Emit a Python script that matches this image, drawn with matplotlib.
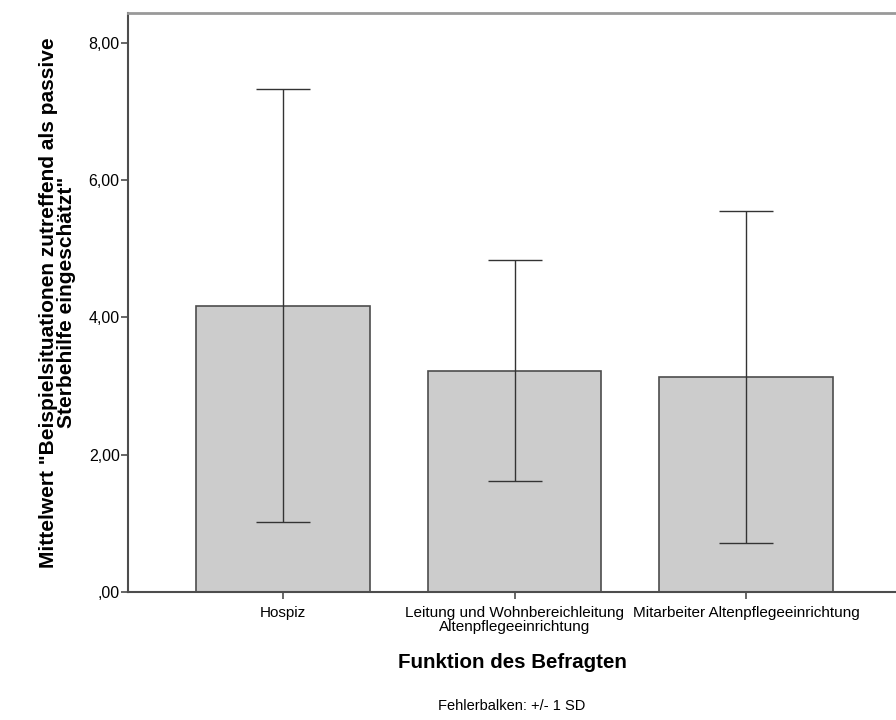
import numpy as np
import matplotlib
matplotlib.use("Agg")
import matplotlib.pyplot as plt

categories = ["Hospiz",
              "Leitung und Wohnbereichleitung\nAltenpflegeeinrichtung",
              "Mitarbeiter Altenpflegeeinrichtung"]
means = [4.17, 3.22, 3.13]
sds = [3.15, 1.61, 2.41]
yticks = [0, 2, 4, 6, 8]
ytick_labels = [",00", "2,00", "4,00", "6,00", "8,00"]

plt.rcParams['font.family'] = ['Liberation Sans', 'DejaVu Sans']

fig = plt.figure(figsize=(8.96, 7.2), dpi=100)
ax = fig.add_axes([128 / 896, 1 - 592 / 720, 1 - 128 / 896, (592 - 13) / 720])

x = np.arange(len(categories))
edge = '#4d4d4d'
ax.bar(x, means, width=0.75, color='#cccccc', edgecolor=edge, linewidth=1.2, zorder=2)
ax.errorbar(x, means, yerr=sds, fmt='none', ecolor='#333333', elinewidth=1.0,
            capsize=19.5, capthick=1.0, zorder=3)

ax.set_xlim(-0.67, 2.648)
ax.set_ylim(0, 8.43)
ax.set_yticks(yticks)
ax.set_yticklabels(ytick_labels)
ax.set_xticks(x)
ax.set_xticklabels(categories, fontsize=11, linespacing=1.0)
ax.tick_params(axis='y', labelsize=11.5, length=5, width=1.2, color=edge, pad=1)
ax.tick_params(axis='x', length=5, width=1.2, color=edge, pad=5)

for side in ['left', 'bottom']:
    ax.spines[side].set_color(edge)
    ax.spines[side].set_linewidth(1.5)
ax.spines['top'].set_color('#999999')
ax.spines['top'].set_linewidth(2)
ax.spines['right'].set_visible(False)

ax.set_ylabel('Mittelwert "Beispielsituationen zutreffend als passive\nSterbehilfe eingeschätzt"',
              fontsize=15, fontweight='bold', linespacing=0.93)
ax.yaxis.set_label_coords(-0.068, 0.5)

fig.text(512 / 896, 1 - 662 / 720, "Funktion des Befragten", ha='center', va='center',
         fontsize=14.8, fontweight='bold')
fig.text(512 / 896, 1 - 706 / 720, "Fehlerbalken: +/- 1 SD", ha='center', va='center',
         fontsize=10.5)

fig.savefig("out.png", dpi=100)
